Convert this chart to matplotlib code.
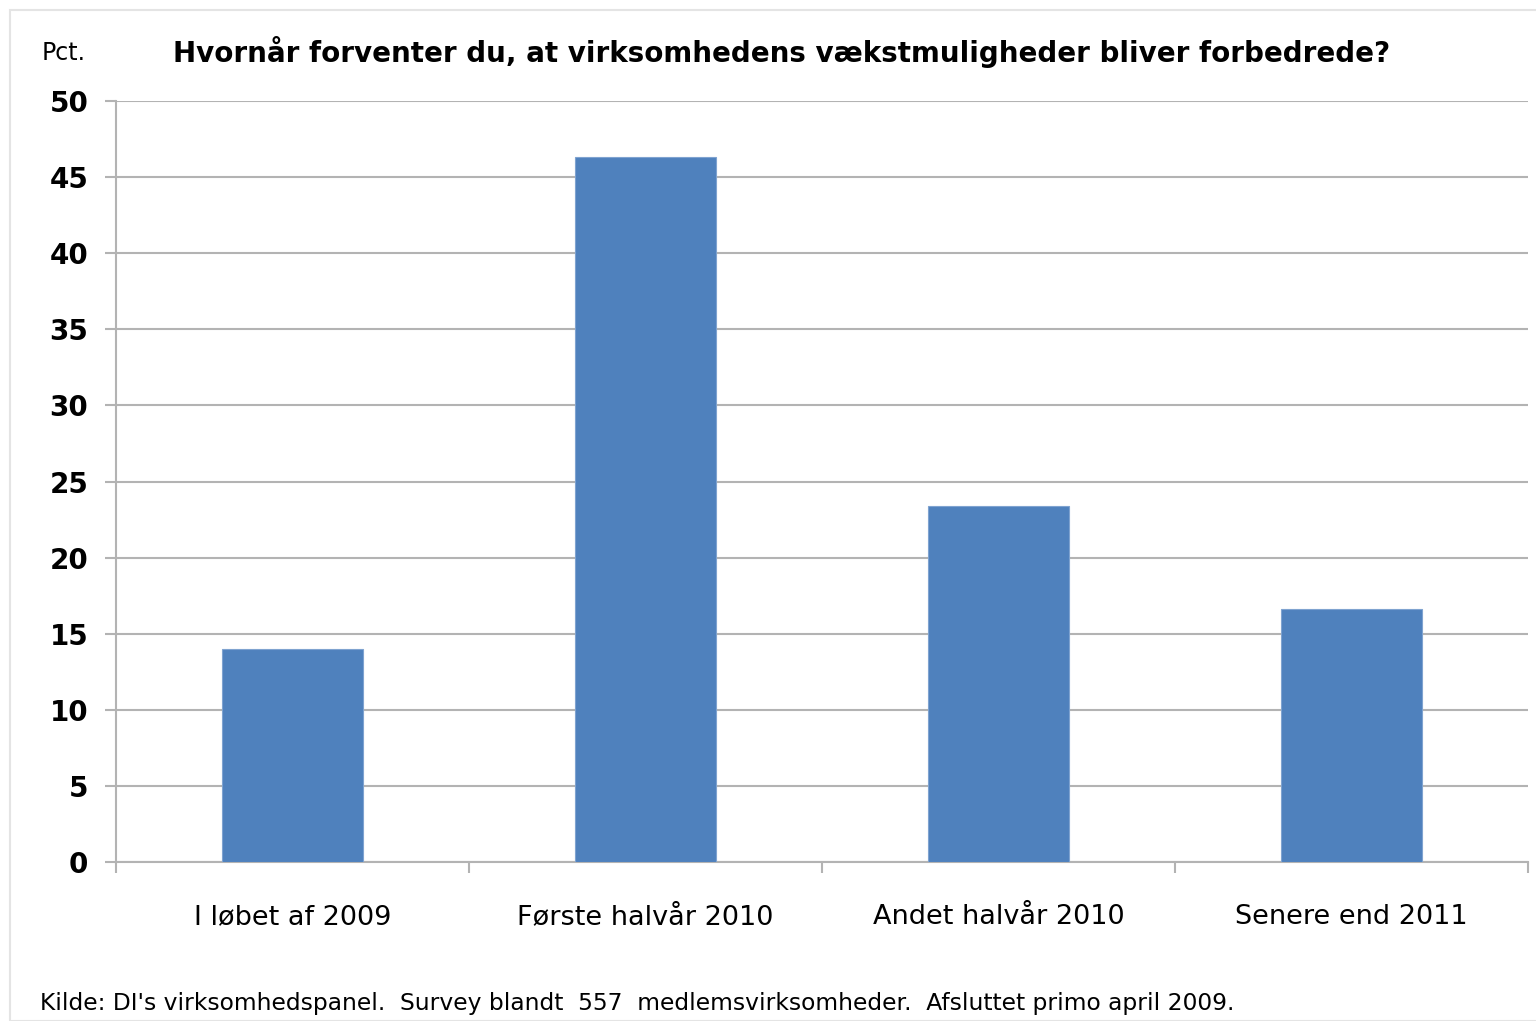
import matplotlib
import matplotlib.pyplot as plt
from matplotlib.patches import Rectangle

categories = ['I løbet af 2009', 'Første halvår 2010', 'Andet halvår 2010', 'Senere end 2011']
values = [14.0, 46.3, 23.4, 16.6]
yticks = [0, 5, 10, 15, 20, 25, 30, 35, 40, 45, 50]

title = 'Hvornår forventer du, at virksomhedens vækstmuligheder bliver forbedrede?'
source = "Kilde: DI's virksomhedspanel.  Survey blandt  557  medlemsvirksomheder.  Afsluttet primo april 2009."

plt.rcParams['font.family'] = ['DejaVu Sans']

fig = plt.figure(figsize=(15.36, 10.21), dpi=100)
# light frame round the chart area
fig.patches.append(Rectangle((10 / 1536, 0), 1.0, 1 - 10 / 1021, transform=fig.transFigure,
                             facecolor='none', edgecolor='#e4e4e4', linewidth=1.5, zorder=-10))

ax = fig.add_axes([116 / 1536, 1 - 862 / 1021, 1412 / 1536, 761 / 1021])
ax.patch.set_alpha(0)
x = list(range(len(categories)))
ax.bar(x, values, width=0.4, color='#4F81BD', edgecolor='#7fa3d0', linewidth=0.8, zorder=3)

ax.set_xlim(-0.5, len(categories) - 0.5)
ax.set_ylim(0, 50)
ax.set_yticks(yticks)
ax.set_yticklabels([str(t) for t in yticks], fontsize=20, fontweight='bold')
ax.yaxis.grid(True, color='#b3b3b3', linewidth=1.5, zorder=0)
ax.tick_params(axis='y', length=8, width=1.5, color='#b3b3b3', pad=12)

# category boundary ticks on x axis
ax.set_xticks([i - 0.5 for i in range(len(categories) + 1)])
ax.set_xticklabels([])
ax.set_xticks(x, minor=True)
ax.set_xticklabels(categories, minor=True, fontsize=19.5)
ax.tick_params(axis='x', which='major', length=8, width=1.5, color='#b3b3b3')
ax.tick_params(axis='x', which='minor', length=0, pad=30)

for side in ['top', 'right']:
    ax.spines[side].set_visible(False)
ax.spines['left'].set_color('#b3b3b3')
ax.spines['left'].set_linewidth(1.5)
ax.spines['bottom'].set_color('#b3b3b3')
ax.spines['bottom'].set_linewidth(1.5)

fig.text(42 / 1536, 1 - 53 / 1021, 'Pct.', fontsize=17, va='center', ha='left')
fig.text(782 / 1536, 1 - 52 / 1021, title, fontsize=20, fontweight='bold', va='center', ha='center')
fig.text(40 / 1536, 1 - 1003 / 1021, source, fontsize=16.8, va='center', ha='left')

fig.savefig('out.png', dpi=100)
